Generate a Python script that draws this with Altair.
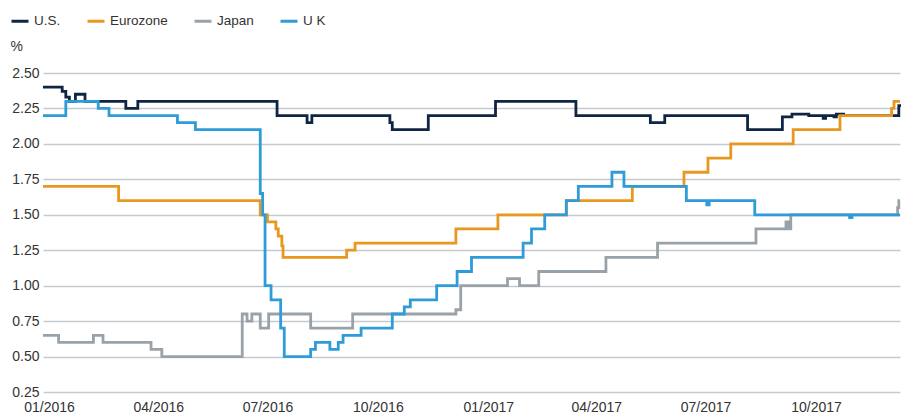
import altair as alt
import pandas as pd

series_names = ["U.S.", "Eurozone", "Japan", "U K"]
series_colors = ["#0f2544", "#e8981f", "#9aa2a9", "#2d9cd8"]

us_dates = ["2015-12-27", "2016-01-12", "2016-01-15", "2016-01-18", "2016-01-23", "2016-01-31",
            "2016-03-05", "2016-03-15", "2016-07-09", "2016-08-03", "2016-08-07", "2016-10-11",
            "2016-10-13", "2016-11-12", "2017-01-07", "2017-03-15", "2017-05-16", "2017-05-28",
            "2017-08-05", "2017-09-03", "2017-09-11", "2017-09-25", "2017-10-07", "2017-10-09",
            "2017-10-16", "2017-10-18", "2017-10-24", "2017-12-09", "2017-12-10"]
us_values = [2.40, 2.37, 2.33, 2.30, 2.35, 2.30,
             2.25, 2.30, 2.20, 2.15, 2.20, 2.15,
             2.10, 2.20, 2.30, 2.20, 2.15, 2.20,
             2.10, 2.19, 2.21, 2.20, 2.18, 2.20,
             2.19, 2.21, 2.20, 2.27, 2.28]

ez_dates = ["2015-12-27", "2016-02-28", "2016-06-25", "2016-07-01", "2016-07-08", "2016-07-10",
            "2016-07-13", "2016-07-14", "2016-09-05", "2016-09-12", "2016-12-05", "2017-01-09",
            "2017-03-07", "2017-05-01", "2017-06-13", "2017-07-03", "2017-07-22", "2017-09-12",
            "2017-10-21", "2017-12-03", "2017-12-05", "2017-12-10"]
ez_values = [1.70, 1.60, 1.50, 1.45, 1.40, 1.35,
             1.28, 1.20, 1.25, 1.30, 1.40, 1.50,
             1.60, 1.70, 1.80, 1.90, 2.00, 2.10,
             2.20, 2.25, 2.30, 2.30]

jp_dates = ["2015-12-27", "2016-01-09", "2016-02-07", "2016-02-15", "2016-03-26", "2016-04-04",
            "2016-06-10", "2016-06-14", "2016-06-18", "2016-06-25", "2016-07-02", "2016-08-06",
            "2016-09-10", "2016-12-05", "2016-12-09", "2017-01-17", "2017-01-27", "2017-02-12",
            "2017-04-09", "2017-05-22", "2017-08-12", "2017-09-06", "2017-09-08", "2017-09-10",
            "2017-12-08", "2017-12-09", "2017-12-10"]
jp_values = [0.65, 0.60, 0.65, 0.60, 0.55, 0.50,
             0.80, 0.75, 0.80, 0.70, 0.80, 0.70,
             0.80, 0.83, 1.00, 1.05, 1.00, 1.10,
             1.20, 1.30, 1.40, 1.45, 1.40, 1.50,
             1.55, 1.60, 1.60]

uk_dates = ["2015-12-27", "2016-01-15", "2016-02-11", "2016-02-20", "2016-04-17", "2016-05-02",
            "2016-06-25", "2016-06-27", "2016-06-29", "2016-07-04", "2016-07-12", "2016-07-15",
            "2016-08-06", "2016-08-10", "2016-08-22", "2016-08-29", "2016-09-02", "2016-09-17",
            "2016-10-13", "2016-10-23", "2016-10-28", "2016-11-19", "2016-12-06", "2016-12-18",
            "2017-01-30", "2017-02-06", "2017-02-17", "2017-03-07", "2017-03-17", "2017-04-14",
            "2017-04-24", "2017-06-15", "2017-07-02", "2017-07-04", "2017-08-11", "2017-10-29",
            "2017-10-31", "2017-12-10"]
uk_values = [2.20, 2.30, 2.25, 2.20, 2.15, 2.10,
             1.65, 1.50, 1.00, 0.90, 0.70, 0.50,
             0.55, 0.60, 0.55, 0.60, 0.65, 0.70,
             0.80, 0.85, 0.90, 1.00, 1.10, 1.20,
             1.30, 1.40, 1.50, 1.60, 1.70, 1.80,
             1.70, 1.60, 1.57, 1.60, 1.50, 1.48,
             1.50, 1.50]

y_ticks = [0.25, 0.50, 0.75, 1.00, 1.25, 1.50, 1.75, 2.00, 2.25, 2.50]
x_tick_months = [(2016, 1), (2016, 4), (2016, 7), (2016, 10),
                 (2017, 1), (2017, 4), (2017, 7), (2017, 10)]

rows = []
for name, ds, vs in zip(series_names,
                        [us_dates, ez_dates, jp_dates, uk_dates],
                        [us_values, ez_values, jp_values, uk_values]):
    for d, v in zip(ds, vs):
        rows.append({"series": name, "date": d, "value": v})
df = pd.DataFrame(rows)

FONT = "Liberation Sans"
TXT = "#333333"

x_vals = [alt.DateTime(year=y, month=m, date=1, utc=True) for (y, m) in x_tick_months]

chart = alt.Chart(df).mark_line(interpolate="step-after", strokeWidth=2.8).encode(
    x=alt.X(
        "date:T",
        scale=alt.Scale(
            type="utc",
            domain=[alt.DateTime(year=2015, month=12, date=27, utc=True),
                    alt.DateTime(year=2017, month=12, date=10, utc=True)],
        ),
        axis=alt.Axis(values=x_vals, labelExpr="utcFormat(datum.value, '%m/%Y')", title=None,
                      grid=False, ticks=False, domain=False, labelPadding=8,
                      labelFontSize=14, labelColor=TXT, labelFont=FONT),
    ),
    y=alt.Y(
        "value:Q",
        scale=alt.Scale(domain=[0.25, 2.5], nice=False, zero=False),
        axis=alt.Axis(values=y_ticks, format=".2f", title="%", titleAngle=0,
                      titleAlign="left", titleBaseline="middle", titleX=-33, titleY=-27,
                      titleFontSize=14, titleFontWeight="normal", titleColor=TXT, titleFont=FONT,
                      ticks=False, domain=False, labelPadding=4,
                      labelFontSize=14, labelColor=TXT, labelFont=FONT,
                      gridColor="#c6cacf", gridWidth=1.5),
    ),
    color=alt.Color(
        "series:N",
        scale=alt.Scale(domain=series_names, range=series_colors),
        legend=alt.Legend(title=None, orient="none", legendX=-33, legendY=-62,
                          direction="horizontal", symbolType="stroke", symbolStrokeWidth=3,
                          symbolSize=289, labelFontSize=13.5, labelColor=TXT, labelFont=FONT,
                          columnPadding=20, labelOffset=4),
    ),
).properties(
    width=857,
    height=319,
    autosize=alt.AutoSizeParams(type="none"),
    padding={"left": 35, "top": 65, "right": 1, "bottom": 24},
).configure_view(stroke=None)

chart.save("out.html", embed_options={"renderer": "svg", "actions": False})
